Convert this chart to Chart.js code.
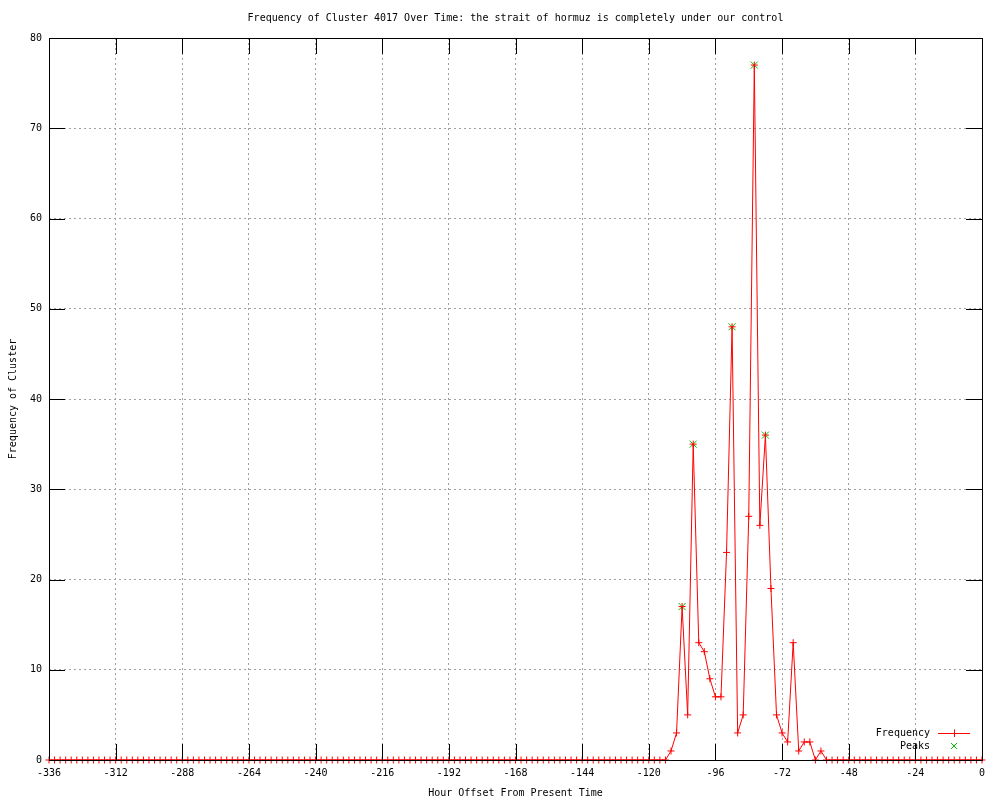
<!DOCTYPE html>
<html>
<head>
<meta charset="utf-8">
<script src="https://cdn.jsdelivr.net/npm/chart.js@4.4.0/dist/chart.umd.min.js"></script>
<style>
html,body{margin:0;padding:0;background:#fff;}
canvas{display:block;}
</style>
</head>
<body>
<canvas id="c" width="1000" height="800"></canvas>
<script>
// ---- data ----
const titleText = "Frequency of Cluster 4017 Over Time: the strait of hormuz is completely under our control";
const xAxisTitle = "Hour Offset From Present Time";
const yAxisTitle = "Frequency of Cluster";
const seriesNames = ["Frequency", "Peaks"];
const xTickStep = 24;
const yTickStep = 10;

// hour offsets, every 2 hours from -336 to 0
const hours = [];
for (let h = -336; h <= 0; h += 2) hours.push(h);

// frequency values (one per hour offset above)
const frequency = [
  0,0,0,0,0,0,0,0,0,0, 0,0,0,0,0,0,0,0,0,0,
  0,0,0,0,0,0,0,0,0,0, 0,0,0,0,0,0,0,0,0,0,
  0,0,0,0,0,0,0,0,0,0, 0,0,0,0,0,0,0,0,0,0,
  0,0,0,0,0,0,0,0,0,0, 0,0,0,0,0,0,0,0,0,0,
  0,0,0,0,0,0,0,0,0,0, 0,0,0,0,0,0,0,0,0,0,
  0,0,0,0,0,0,0,0,0,0, 0,0,
  1,3,17,5,35,13,12,9,7,7,23,48,3,5,27,77,26,36,19,5,3,2,13,1,2,2,0,1,
  0,0,0,0,0,0,0,0,0,0, 0,0,0,0,0,0,0,0,0,0,
  0,0,0,0,0,0,0,0,0
];

const peakHours  = [-108, -104, -90, -82, -78];
const peakValues = [17, 35, 48, 77, 36];

// ---- build ----
const FONT = "'DejaVu Sans Mono', 'Liberation Mono', monospace";
const RED = '#ff0000';
const GREEN = '#00c000';

const freqPoints = hours.map((h, i) => ({x: h, y: frequency[i]}));
const peakPoints = peakHours.map((h, i) => ({x: h, y: peakValues[i]}));

const gnuplotFrame = {
  id: 'gnuplotFrame',
  afterDatasetsDraw(chart) {
    const {ctx, chartArea: a, scales} = chart;
    const xs = scales.x, ys = scales.y;
    const TL = 16;
    ctx.save();
    ctx.strokeStyle = '#000';
    ctx.lineWidth = 1;
    ctx.beginPath();
    xs.ticks.forEach(t => {
      if (t.value <= xs.min || t.value >= xs.max) return;
      const px = Math.round(xs.getPixelForValue(t.value)) + 0.5;
      ctx.moveTo(px, a.bottom); ctx.lineTo(px, a.bottom - TL);
      ctx.moveTo(px, a.top); ctx.lineTo(px, a.top + TL);
    });
    ys.ticks.forEach(t => {
      if (t.value <= ys.min || t.value >= ys.max) return;
      const py = Math.round(ys.getPixelForValue(t.value)) + 0.5;
      ctx.moveTo(a.left, py); ctx.lineTo(a.left + TL, py);
      ctx.moveTo(a.right, py); ctx.lineTo(a.right - TL, py);
    });
    ctx.stroke();
    ctx.strokeRect(Math.round(a.left) + 0.5, Math.round(a.top) + 0.5,
                   Math.round(a.right - a.left), Math.round(a.bottom - a.top));

    // title
    ctx.fillStyle = '#000';
    ctx.font = "10px " + FONT;
    ctx.textAlign = 'center';
    ctx.textBaseline = 'middle';
    ctx.fillText(titleText, (a.left + a.right) / 2, 18);

    // legend
    const lx = a.right - 52, ly1 = a.bottom - 27, ly2 = a.bottom - 14;
    ctx.textAlign = 'right';
    ctx.fillText(seriesNames[0], lx, ly1);
    ctx.fillText(seriesNames[1], lx, ly2);
    const sx0 = lx + 8, sx1 = lx + 40, sc = (sx0 + sx1) / 2;
    ctx.strokeStyle = RED;
    ctx.beginPath();
    ctx.moveTo(sx0, ly1 + 0.5); ctx.lineTo(sx1, ly1 + 0.5);
    ctx.moveTo(Math.round(sc) + 0.5, ly1 - 3.5); ctx.lineTo(Math.round(sc) + 0.5, ly1 + 4);
    ctx.stroke();
    ctx.strokeStyle = GREEN;
    ctx.beginPath();
    ctx.moveTo(sc - 3, ly2 - 3); ctx.lineTo(sc + 3, ly2 + 3);
    ctx.moveTo(sc + 3, ly2 - 3); ctx.lineTo(sc - 3, ly2 + 3);
    ctx.stroke();
    ctx.restore();
  }
};

new Chart(document.getElementById('c'), {
  type: 'line',
  data: {
    datasets: [
      {
        label: seriesNames[0],
        data: freqPoints,
        borderColor: RED,
        backgroundColor: RED,
        borderWidth: 1,
        tension: 0,
        pointStyle: 'cross',
        pointRadius: 3.5,
        pointBorderColor: RED,
        pointBorderWidth: 1,
        pointHoverRadius: 3.5,
        fill: false,
        clip: false
      },
      {
        label: seriesNames[1],
        data: peakPoints,
        showLine: false,
        pointStyle: 'crossRot',
        pointRadius: 5,
        pointBorderColor: GREEN,
        pointBackgroundColor: GREEN,
        pointBorderWidth: 1,
        clip: false
      }
    ]
  },
  options: {
    responsive: false,
    animation: false,
    devicePixelRatio: 1,
    layout: {padding: {top: 38, right: 18, left: 0, bottom: 0}},
    plugins: {legend: {display: false}, tooltip: {enabled: false}, title: {display: false}},
    scales: {
      x: {
        type: 'linear',
        min: -336, max: 0,
        afterFit(s) { s.height = 40; },
        ticks: {stepSize: xTickStep, color: '#000', font: {family: FONT, size: 10}, padding: 7, maxRotation: 0, autoSkip: false},
        grid: {color: '#a0a0a0', drawTicks: false, lineWidth: 1},
        border: {display: false, dash: [2, 3]},
        title: {display: true, text: xAxisTitle, color: '#000', font: {family: FONT, size: 10}, padding: {top: 0, bottom: 1}}
      },
      y: {
        type: 'linear',
        min: 0, max: 80,
        afterFit(s) { s.width = 49; },
        ticks: {stepSize: yTickStep, color: '#000', font: {family: FONT, size: 10}, padding: 7},
        grid: {color: '#a0a0a0', drawTicks: false, lineWidth: 1},
        border: {display: false, dash: [2, 3]},
        title: {display: true, text: yAxisTitle, color: '#000', font: {family: FONT, size: 10}, padding: {top: 7, bottom: 0}}
      }
    }
  },
  plugins: [gnuplotFrame]
});
</script>
</body>
</html>
